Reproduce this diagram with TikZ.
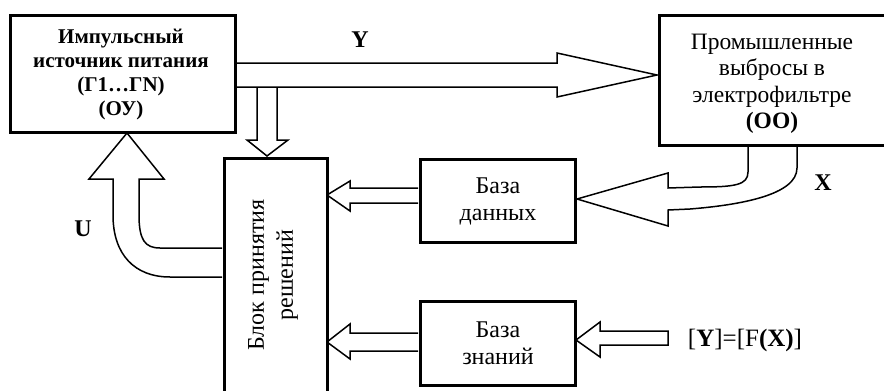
\documentclass[tikz,border=0pt]{standalone}
\usepackage{fontspec}
\setmainfont{Liberation Serif}
\usetikzlibrary{positioning}
\pgfdeclarelayer{background}
\pgfsetlayers{background,main}
\tikzset{
  box/.style={draw, line width=3pt, fill=white, anchor=north west, align=center, inner sep=0pt},
  fat/.style={draw, line width=1.5pt, fill=white, line join=miter},
  lbl/.style={font=\fontsize{24}{26}\selectfont\bfseries}
}
\begin{document}
\begin{tikzpicture}[x=1pt,y=-1pt]
\useasboundingbox (0,0) rectangle (884,391);
% boxes
\node[box, minimum width=225pt, minimum height=117pt] (imp) at (9,14) {};
\node[font=\fontsize{21}{24}\selectfont\bfseries, align=center] (impt) at (121,75) {Импульсный\\источник питания\\(Г1…ГN)\\(ОУ)};
\node[box, minimum width=240pt, minimum height=130pt] (prom) at (658,14) {};
\node[font=\fontsize{23.5}{26.5}\selectfont, align=center] (promt) at (772,84) {Промышленные\\выбросы в\\электрофильтре\\\textbf{(ОО)}};
\node[box, minimum width=103pt, minimum height=245pt] (blok) at (223,157) {};
\node[rotate=90, font=\fontsize{24}{29}\selectfont, align=center] (blokt) at (273,275) {Блок принятия\\решений};
\node[box, minimum width=155pt, minimum height=83pt, font=\fontsize{24}{27}\selectfont] (bd) at (419,158) {База\\данных};
\node[box, minimum width=155pt, minimum height=84pt, font=\fontsize{24}{27}\selectfont] (bz) at (419,300) {База\\знаний};
% labels
\node[lbl] (ly) at (360,40) {Y};
\node[lbl] (lx) at (823,183) {X};
\node[lbl] (lu) at (83,229) {U};
\node[font=\fontsize{25}{26}\selectfont] (formula) at (745,340) {[\textbf{Y}]=[F\textbf{(X)}]};
\begin{pgfonlayer}{background}
% down arrow into blok
\draw[fat] (257,87) -- (257,140) -- (247,140) -- (267,156) -- (288,140) -- (277,140) -- (277,87);
% Y arrow
\draw[fat] (235,63) -- (557,63) -- (557,53) -- (657,75) -- (557,97) -- (557,87) -- (235,87);
% bd -> blok
\draw[fat] (418,188) -- (350,188) -- (350,181) -- (327,195) -- (350,211) -- (350,203) -- (418,203);
% bz -> blok
\draw[fat] (418,333) -- (350,333) -- (350,324) -- (327,342) -- (350,359) -- (350,351) -- (418,351);
% formula -> bz
\draw[fat] (668,331) -- (600,331) -- (600,322) -- (576,340) -- (600,357) -- (600,345) -- (668,345) -- cycle;
% X arrow
\draw[fat] (748,145) -- (748,172) .. controls (748,185) and (735,187) .. (700,187) -- (668,188) -- (668,173) -- (577,199) -- (668,226) -- (668,210) -- (690,209) .. controls (740,205) and (797,195) .. (797,168) -- (797,145);
% U arrow
\draw[fat] (222,248) -- (160,248) .. controls (145,248) and (139,240) .. (139,215) -- (139,179) -- (164,179) -- (127,133) -- (89,179) -- (113,179) -- (113,215) .. controls (113,255) and (135,277) .. (170,277) -- (222,277);
\end{pgfonlayer}
\end{tikzpicture}
\end{document}
